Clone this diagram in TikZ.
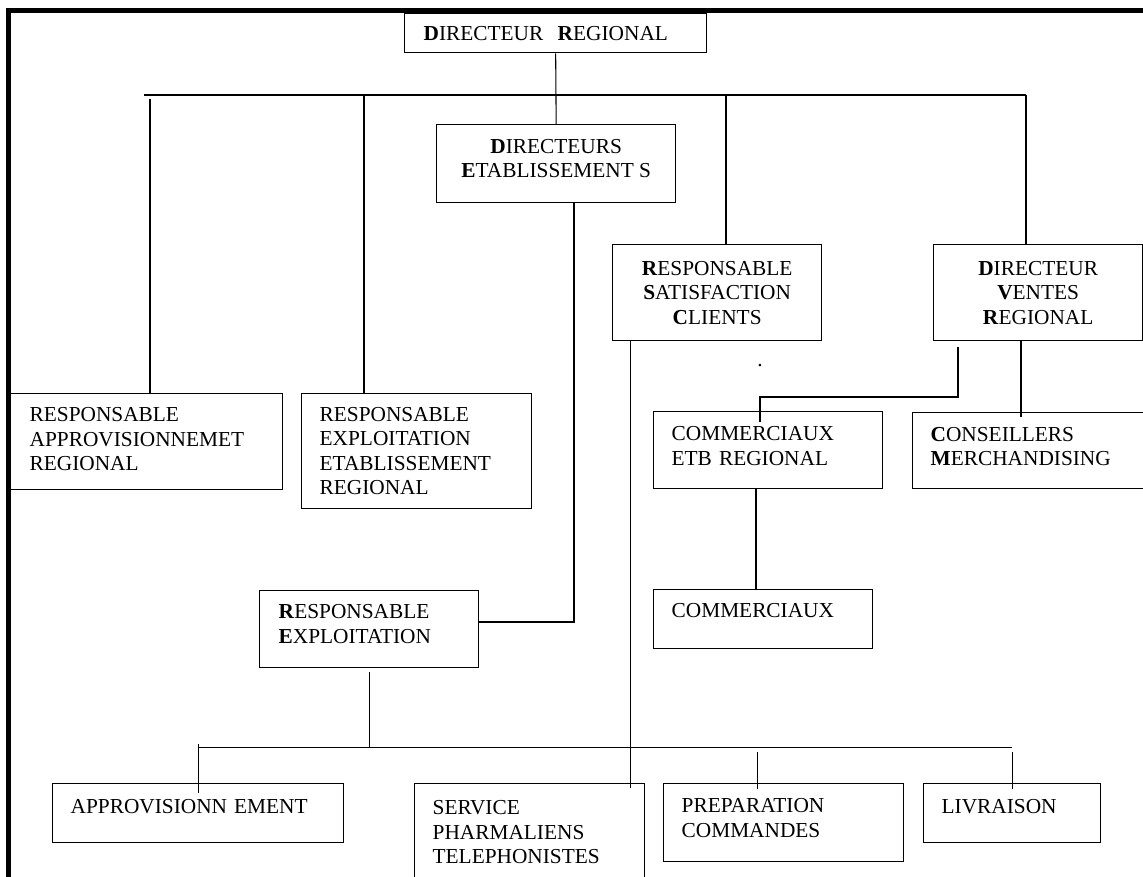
\documentclass[tikz,border=0pt]{standalone}
\usepackage{fontspec}
\setmainfont{Liberation Serif}
\usetikzlibrary{positioning,calc}
\newcommand\orgfont{\fontsize{16}{18.4}\selectfont}
\tikzset{
  box/.style={draw, line width=1pt, anchor=north west, inner ysep=0pt, font=\orgfont},
  cbox/.style={box, align=center, inner xsep=0pt},
  lbox/.style={box, align=left, inner xsep=13.5pt},
  thn/.style={line width=0.8pt},
  thk/.style={line width=1.5pt},
}

\begin{document}
\begin{tikzpicture}[x=0.75pt,y=-0.75pt]
  \useasboundingbox (0,0) rectangle (1143,876);
  \clip (0,0) rectangle (1143,876);
  % outer frame, only the left and top sides show
  \draw[line width=3.6pt] (8.5,890) -- (8.5,10.5) -- (1160,10.5);

  % top levels
  \node[lbox, inner xsep=14.25pt, text width=198pt, minimum height=29.25pt] (dr) at (404,13) {\textbf{D}IRECTEUR\ \ \textbf{R}EGIONAL};
  \node[cbox, minimum width=179.25pt, minimum height=58.5pt, text depth=8pt] (de) at (436,124) {\textbf{D}IRECTEURS\\\textbf{E}TABLISSEMENT S};
  \node[cbox, minimum width=156.75pt, minimum height=72pt] (rsc) at (612,244) {\textbf{R}ESPONSABLE\\\textbf{S}ATISFACTION\\\textbf{C}LIENTS};
  \node[cbox, minimum width=156.75pt, minimum height=72pt] (dvr) at (933,244) {\textbf{D}IRECTEUR\\\textbf{V}ENTES\\\textbf{R}EGIONAL};

  % middle levels
  \node[lbox, inner xsep=14.25pt, text width=175.5pt, minimum height=72pt, text depth=40.5pt] (rar) at (10,393) {RESPONSABLE\\APPROVISIONNEMET\\REGIONAL};
  \node[lbox, text width=145.5pt, minimum height=86.25pt] (reer) at (301,393) {RESPONSABLE\\EXPLOITATION\\ETABLISSEMENT\\REGIONAL};
  \node[lbox, text width=144.75pt, minimum height=57.75pt, text depth=25.1pt] (cetb) at (653,411) {COMMERCIAUX\\ETB REGIONAL};
  \node[lbox, text width=153pt, minimum height=57pt, text depth=25.1pt] (cons) at (912,412) {\textbf{C}ONSEILLERS\\\textbf{M}ERCHANDISING};
  \node[lbox, text width=137.25pt, minimum height=44.25pt, text depth=12.5pt] (comm) at (653,589) {COMMERCIAUX};
  \node[lbox, inner xsep=14.25pt, text width=135.75pt, minimum height=57.75pt, text depth=25.9pt] (rexp) at (259,590) {\textbf{R}ESPONSABLE\\\textbf{E}XPLOITATION};
  \node[font=\orgfont, inner sep=0pt] (stray) at (760,366) {.};

  % bottom level
  \node[lbox, text width=191.25pt, minimum height=44.25pt, text depth=10.5pt] (appr) at (52,783) {APPROVISIONN EMENT};
  \node[lbox, text width=145.5pt, minimum height=72.75pt] (svc) at (414,783) {SERVICE\\PHARMALIENS\\TELEPHONISTES};
  \node[lbox, text width=153pt, minimum height=58.5pt, text depth=25.9pt] (prep) at (663,783) {PREPARATION\\COMMANDES};
  \node[lbox, text width=105.75pt, minimum height=44.25pt, text depth=9.75pt] (liv) at (923,783) {LIVRAISON};

  % upper bus
  \coordinate (b1w) at (144,95);
  \coordinate (t1) at (150,95);
  \coordinate (t2) at (364,95);
  \coordinate (t3) at (726,95);
  \coordinate (t4) at (1026,95);
  \draw[thn] (b1w) -- (t4);
  \draw[thn] (dr.south) -- (de.north);
  \draw[thk] ($(t1)+(0,4)$) -- (t1 |- rar.north);
  \draw[thn] (t2) -- (t2 |- reer.north);
  \draw[thn] (t3) -- (t3 |- rsc.north);
  \draw[thn] (t4) -- (t4 |- dvr.north);

  % links below the top boxes
  \draw[thk] ([xshift=13pt]de.south) |- ([yshift=5.5pt]rexp.east);
  \coordinate (rs) at ([xshift=14pt]rsc.south west);
  \draw[thn] (rs) -- ($(rs |- svc.north)+(0,5)$);
  \draw[thk] ([xshift=19pt,yshift=-4.5pt]dvr.south west) -- ++(0,-37.5pt) -| ([xshift=-6.4pt,yshift=-8pt]cetb.north);
  \coordinate (dc) at ([xshift=-13pt]dvr.south);
  \draw[thk] (dc) -- ($(dc |- cons.north)+(0,5)$);
  \coordinate (cc) at ([xshift=-9pt]cetb.south);
  \draw[thk] (cc) -- (cc |- comm.north);

  % lower bus
  \coordinate (b2) at ([yshift=-59.25pt]rexp.south);
  \draw[thn] ($(rexp.south)+(0,4)$) -- (b2);
  \draw[thn] (appr.north |- b2) -- (liv.north |- b2);
  \draw[thn] ($(appr.north |- b2)+(0,-3)$) -- ($(appr.north)+(0,10)$);
  \coordinate (pc) at ([xshift=-19.5pt]prep.north);
  \draw[thn] ($(pc |- b2)+(0,5)$) -- ($(pc)+(0,6)$);
  \draw[thn] ($(liv.north |- b2)+(0,5)$) -- ($(liv.north)+(0,6)$);
\end{tikzpicture}
\end{document}
